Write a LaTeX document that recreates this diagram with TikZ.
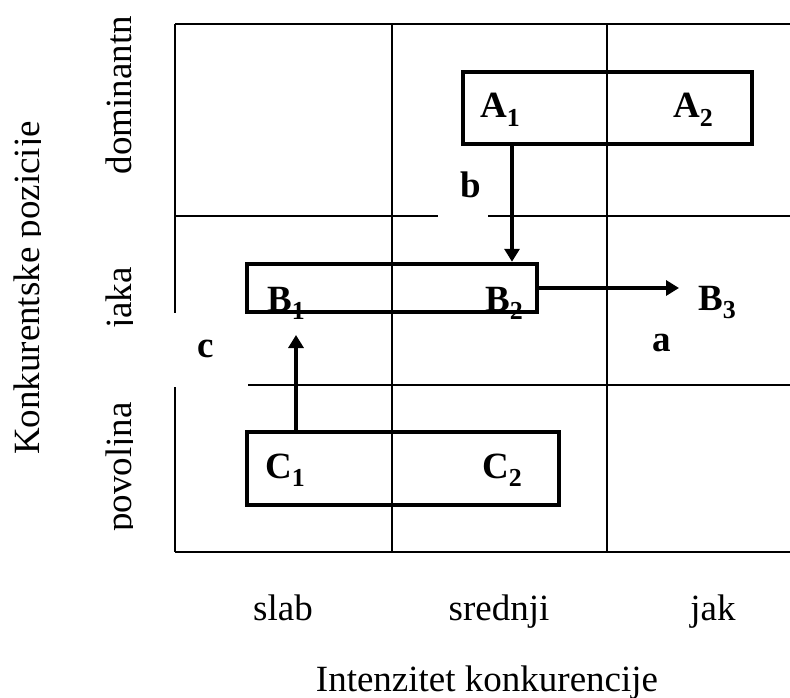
\documentclass[tikz,border=0pt]{standalone}
\usepackage{fontspec}
\setmainfont{Liberation Serif}
\usetikzlibrary{arrows.meta}
\tikzset{gridln/.style={line width=1.6pt},
 mbox/.style={draw,line width=4.5pt,inner sep=0pt,minimum width=#1},
 arr/.style={line width=4.2pt,-{Triangle[length=13pt,width=15pt]}},
 word/.style={inner sep=0pt,anchor=base,font=\fontsize{37}{40}\selectfont},
 tag/.style={inner sep=0pt,anchor=base west,font=\fontsize{37}{40}\selectfont\bfseries}}

\begin{document}
\begin{tikzpicture}[x=1pt,y=-1pt]
\useasboundingbox (0,0) rectangle (790,698);
\foreach \y in {24,216,385,552}{\draw[gridln] (175,\y)--(790,\y);}
\foreach \x in {175,392,607}{\draw[gridln] (\x,24)--(\x,552);}
\fill[white] (438,168) rectangle (488,218);\fill[white] (172,313) rectangle (248,387);
\begin{scope}
\clip (0,0) rectangle (40,698) (100,0) rectangle (132,698);
\node[word,rotate=90] (dom) at (131,95) {dominantn};\node[word,rotate=90] (jaka) at (131,298) {jaka};
\node[word,rotate=90] (pov) at (131,467) {povoljna};\node[word,rotate=90] (konk) at (39,288) {Konkurentske pozicije};
\end{scope}
\node[word] (slab) at (283,620) {slab};\node[word] (sred) at (499,620) {srednji};\node[word] (jak) at (713,620) {jak};
\node[word] (int) at (487,691) {Intenzitet konkurencije};
\foreach \l/\i/\x/\y in {A/1/480/118,A/2/673/118,B/1/267/311,B/2/485/311,B/3/698/310,C/1/265/478,C/2/482/478}{\node[tag] (\l\i) at (\x,\y) {\l\textsubscript{\i}};}
\node[tag] (a) at (652,351) {a};\node[tag] (b) at (460,197) {b};\node[tag] (c) at (197,357) {c};
\node[mbox=289pt,minimum height=72pt] (boxA) at (607.5,108) {};
\node[mbox=290pt,minimum height=48pt] (boxB) at (392,288) {};
\node[mbox=312pt,minimum height=73pt] (boxC) at (403,468.5) {};
\coordinate (abx) at (512,0);\coordinate (cbtip) at (296,335);
\draw[arr] (boxA.south -| abx) -- (boxB.north -| abx);
\draw[arr,shorten >=19pt] (boxB.east) -- (boxB.east -| B3.west);
\draw[arr] (boxC.north -| cbtip) -- (cbtip);
\end{tikzpicture}
\end{document}
